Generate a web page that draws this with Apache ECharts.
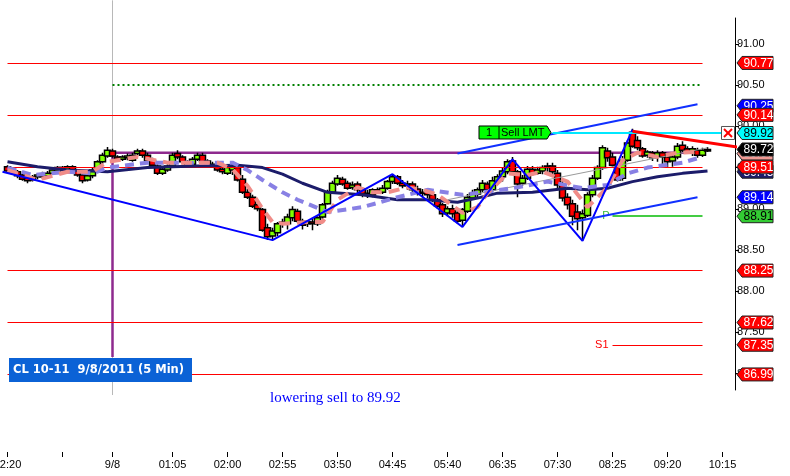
<!DOCTYPE html>
<html>
<head>
<meta charset="utf-8">
<script src="https://cdn.jsdelivr.net/npm/echarts@6/dist/echarts.min.js"></script>
<style>
html,body{margin:0;padding:0;background:#fff;}
#main{width:790px;height:476px;}
</style>
</head>
<body>
<div id="main"></div>
<script>
// 5 min bars, first slot 22:15 (9/7)
var times = [];
(function () {
	var m = 22 * 60 + 15;
	for (var i = 0; i < 147; i++) {
		var t = (m + 5 * i) % 1440;
		times.push(('0' + Math.floor(t / 60)).slice(-2) + ':' + ('0' + t % 60).slice(-2));
	}
})();

var tickIdx = [1, 12, 22, 34, 45, 56, 67, 78, 89, 100, 111, 122, 133, 144];
var tickText = ['22:20', '', '9/8', '01:05', '02:00', '02:55', '03:50', '04:45', '05:40', '06:35', '07:30', '08:25', '09:20', '10:15'];
var priceTicks = [87.0, 87.5, 88.0, 88.5, 89.0, 89.5, 90.0, 90.5, 91.0];

// open, close, low, high  (bar 1 = 22:20)
var candles = [
	[89.51,89.46,89.43,89.53],[89.47,89.43,89.41,89.50],[89.45,89.40,89.37,89.47],[89.41,89.36,89.34,89.43],
	[89.37,89.34,89.31,89.40],[89.35,89.39,89.33,89.41],[89.39,89.41,89.36,89.43],[89.41,89.39,89.36,89.45],
	[89.40,89.43,89.37,89.46],[89.43,89.47,89.41,89.50],[89.46,89.50,89.43,89.52],[89.50,89.47,89.45,89.52],
	[89.48,89.51,89.46,89.53],[89.51,89.46,89.43,89.53],[89.46,89.41,89.39,89.48],[89.41,89.34,89.31,89.43],
	[89.35,89.40,89.33,89.42],[89.40,89.47,89.37,89.50],[89.47,89.57,89.45,89.59],[89.57,89.65,89.54,89.68],
	[89.64,89.71,89.62,89.75],[89.70,89.64,89.62,89.73],[89.63,89.60,89.58,89.65],[89.60,89.63,89.58,89.65],
	[89.62,89.64,89.59,89.67],[89.59,89.65,89.57,89.68],[89.67,89.70,89.64,89.73],[89.70,89.65,89.62,89.73],
	[89.65,89.59,89.57,89.68],[89.59,89.53,89.51,89.62],[89.52,89.43,89.41,89.54],[89.43,89.48,89.41,89.51],
	[89.47,89.52,89.45,89.54],[89.52,89.65,89.50,89.68],[89.67,89.63,89.60,89.71],[89.63,89.57,89.54,89.65],
	[89.57,89.53,89.51,89.59],[89.54,89.60,89.52,89.63],[89.60,89.65,89.58,89.68],[89.65,89.57,89.54,89.68],
	[89.58,89.54,89.52,89.60],[89.54,89.52,89.50,89.57],[89.52,89.47,89.45,89.54],[89.48,89.45,89.42,89.51],
	[89.43,89.50,89.41,89.52],[89.47,89.51,89.41,89.53],[89.50,89.35,89.33,89.52],[89.36,89.20,89.18,89.41],
	[89.20,89.14,89.12,89.24],[89.14,89.03,89.01,89.17],[89.05,89.00,88.97,89.08],[88.99,88.74,88.72,89.01],
	[88.77,88.66,88.62,88.82],[88.67,88.73,88.63,88.77],[88.71,88.82,88.67,88.84],[88.82,88.84,88.77,88.88],
	[88.82,88.90,88.75,88.94],[88.89,88.99,88.85,89.03],[88.97,88.85,88.83,89.00],[88.85,88.80,88.75,88.88],
	[88.82,88.84,88.78,88.86],[88.84,88.82,88.74,88.88],[88.82,88.89,88.79,88.91],[88.90,89.05,88.88,89.07],
	[89.06,89.20,89.05,89.23],[89.20,89.31,89.18,89.34],[89.30,89.37,89.28,89.41],[89.36,89.30,89.28,89.39],
	[89.31,89.25,89.23,89.34],[89.26,89.29,89.23,89.33],[89.30,89.23,89.19,89.33],[89.24,89.18,89.14,89.26],
	[89.19,89.16,89.13,89.23],[89.17,89.23,89.14,89.25],[89.23,89.20,89.18,89.26],[89.20,89.25,89.18,89.29],
	[89.25,89.33,89.23,89.35],[89.33,89.39,89.30,89.42],[89.39,89.31,89.29,89.41],[89.31,89.28,89.25,89.35],
	[89.28,89.30,89.23,89.34],[89.30,89.23,89.19,89.33],[89.24,89.19,89.16,89.28],[89.19,89.20,89.14,89.24],
	[89.20,89.17,89.13,89.25],[89.17,89.11,89.08,89.20],[89.11,89.03,89.00,89.13],[89.05,88.94,88.90,89.07],
	[88.95,89.00,88.91,89.03],[89.00,88.94,88.89,89.05],[88.95,88.85,88.82,88.99],[88.86,88.99,88.79,89.01],
	[88.97,89.14,88.95,89.18],[89.13,89.19,89.11,89.23],[89.18,89.23,89.14,89.26],[89.23,89.31,89.20,89.35],
	[89.30,89.23,89.19,89.33],[89.23,89.34,89.20,89.39],[89.33,89.39,89.30,89.42],[89.39,89.46,89.33,89.50],
	[89.45,89.57,89.42,89.60],[89.58,89.45,89.41,89.63],[89.45,89.30,89.14,89.47],[89.31,89.37,89.28,89.41],
	[89.37,89.48,89.35,89.52],[89.48,89.43,89.40,89.52],[89.43,89.47,89.41,89.51],[89.46,89.50,89.42,89.53],
	[89.50,89.52,89.45,89.56],[89.52,89.45,89.41,89.56],[89.43,89.29,89.25,89.47],[89.30,89.13,89.09,89.34],
	[89.14,89.05,88.99,89.19],[89.06,88.91,88.80,89.11],[88.96,88.88,88.74,89.05],[88.89,88.94,88.61,88.99],
	[88.92,89.17,88.90,89.20],[89.17,89.37,89.14,89.41],[89.37,89.50,89.35,89.53],[89.50,89.74,89.47,89.77],
	[89.70,89.62,89.57,89.74],[89.63,89.53,89.51,89.68],[89.53,89.35,89.33,89.56],[89.37,89.59,89.34,89.64],
	[89.59,89.80,89.57,89.83],[89.93,89.76,89.74,89.97],[89.83,89.74,89.71,89.88],[89.73,89.64,89.62,89.75],
	[89.65,89.69,89.62,89.71],[89.68,89.62,89.58,89.70],[89.63,89.68,89.57,89.71],[89.68,89.63,89.52,89.70],
	[89.63,89.57,89.50,89.67],[89.58,89.63,89.51,89.67],[89.63,89.76,89.60,89.80],[89.77,89.71,89.69,89.82],
	[89.73,89.69,89.67,89.76],[89.69,89.73,89.64,89.76],[89.71,89.65,89.62,89.74],[89.65,89.71,89.63,89.74],
	[89.70,89.72,89.69,89.75]
];

// moving averages read at sample bars [bar, price]
var slowMA = [[1,89.57],[7,89.51],[13,89.47],[21,89.45],[29,89.50],[39,89.52],[47,89.53],[52,89.50],
	[56,89.42],[60,89.31],[65,89.20],[72,89.17],[79,89.11],[85,89.11],[91,89.08],[95,89.13],[99,89.19],
	[106,89.20],[113,89.25],[117,89.23],[121,89.25],[126,89.33],[131,89.39],[136,89.43],[141,89.46]];
var midMA = [[1,89.50],[6,89.41],[13,89.45],[18,89.43],[21,89.50],[29,89.56],[39,89.56],[46,89.56],
	[49,89.47],[52,89.35],[56,89.20],[59,89.11],[63,89.01],[65,88.96],[72,89.02],[79,89.14],[85,89.23],
	[92,89.17],[96,89.20],[103,89.26],[109,89.33],[116,89.25],[121,89.29],[125,89.43],[129,89.50],
	[136,89.56],[140,89.63]];
var fastMA = [[1,89.47],[7,89.35],[13,89.45],[18,89.45],[21,89.57],[27,89.63],[33,89.56],[37,89.56],
	[43,89.56],[46,89.48],[49,89.28],[52,89.00],[54,88.84],[56,88.82],[61,88.84],[64,88.84],[67,89.11],
	[71,89.26],[74,89.20],[77,89.20],[81,89.26],[84,89.23],[87,89.17],[92,88.95],[95,89.02],[97,89.19],
	[101,89.43],[105,89.41],[108,89.45],[113,89.33],[117,89.02],[121,89.26],[124,89.59],[127,89.68],
	[131,89.63],[135,89.68],[139,89.69]];

var zigzag = [[0,89.45],[54,88.62],[78,89.42],[92,88.78],[102,89.60],[116,88.61],[126,89.96]];
var channelTop = [[91,89.67],[139,90.27]];
var channelLow = [[91,88.56],[139,89.14]];
var trendDown = [[126,89.94],[146.5,89.75]];
var regLine = [[89,89.11],[141,89.74]];
var purpleLine = [[140,89.68],[22,89.68],[21.6,89.46],[21.6,87.20]];

var redLevels = [90.77, 90.14, 89.51, 88.25, 87.62, 86.99];
var dotLevel = 90.50;
var pivotP = 88.91;
var pivotS1 = 87.35;
var sellPrice = 89.92;

var tagValues = [90.77, 90.25, 90.14, 89.92, 89.45, 89.67, 89.72, 89.51, 89.14, 88.91, 88.25, 87.62, 87.35, 86.99];
var tagFills = ['#ff0000', '#0000ff', '#ff0000', '#00ffff', '#1c1c6a', '#f29a94', '#000000', '#ff0000', '#0000ff', '#33cc33', '#ff0000', '#ff0000', '#ff0000', '#ff0000'];
var tagInk = ['#fff', '#fff', '#fff', '#000', '#fff', '#fff', '#fff', '#fff', '#fff', '#000', '#fff', '#fff', '#fff', '#fff'];

var chart = echarts.init(document.getElementById('main'));
var FONT = '"Liberation Sans", Arial, sans-serif';

function seg(name, data, color, width, type, z) {
	return {
		name: name, type: 'line', data: data, symbol: 'none', silent: true, z: z || 3,
		lineStyle: { color: color, width: width, type: type || 'solid' }
	};
}

var levelLines = redLevels.map(function (v) {
	return [{ coord: [1, v] }, { coord: [140, v] }];
});
levelLines.push([{ coord: [22, dotLevel], lineStyle: { color: '#008000', width: 2, type: [2, 3] } }, { coord: [140, dotLevel] }]);
levelLines.push([{ coord: [122, pivotP], lineStyle: { color: '#44cc44', width: 2 },
	label: { show: true, position: 'start', formatter: 'P', color: '#33bb33', fontSize: 11, fontFamily: FONT, distance: 3 } },
	{ coord: [140, pivotP] }]);
levelLines.push([{ coord: [122, pivotS1], lineStyle: { color: '#ff0000', width: 1 },
	label: { show: true, position: 'start', formatter: 'S1', color: '#ff0000', fontSize: 11, fontFamily: FONT, distance: 4 } },
	{ coord: [140, pivotS1] }]);

var option = {
	animation: false,
	backgroundColor: '#fff',
	grid: { left: 0, right: 55, top: 18, bottom: 86, containLabel: false, outerBoundsMode: 'none' },
	xAxis: {
		type: 'category', data: times, boundaryGap: true, offset: 62,
		axisLine: { show: false },
		axisTick: {
			show: true, length: 5, alignWithLabel: true, lineStyle: { color: '#000' },
			interval: function (i) { return tickIdx.indexOf(i) >= 0; }
		},
		axisLabel: {
			color: '#000', fontSize: 11, fontFamily: FONT, margin: 7,
			interval: function (i) { return tickIdx.indexOf(i) >= 0; },
			formatter: function (v, i) { var k = tickIdx.indexOf(i); return k >= 0 ? tickText[k] : ''; }
		},
		splitLine: { show: false }
	},
	yAxis: {
		type: 'value', position: 'right', min: 86.801, max: 91.3155, splitNumber: 9, scale: true,
		axisLine: { show: true, lineStyle: { color: '#000', width: 1 } },
		axisTick: { show: true, length: 4, customValues: priceTicks, lineStyle: { color: '#000' } },
		axisLabel: {
			color: '#000', fontSize: 11, fontFamily: FONT, margin: 2, customValues: priceTicks,
			formatter: function (v) { return Math.abs(v * 2 - Math.round(v * 2)) < 1e-6 ? v.toFixed(2) : ''; }
		},
		splitLine: { show: false }
	},
	graphic: [
		{ type: 'rect', left: 9, top: 358, shape: { width: 183, height: 24 }, style: { fill: '#0b62d6' }, z: 100 },
		{ type: 'text', left: 13, top: 364, z: 101,
			style: { text: 'CL 10-11  9/8/2011 (5 Min)', fill: '#fff', font: 'bold 11.5px "DejaVu Sans", Tahoma, sans-serif' } },
		{ type: 'text', left: 270, top: 391, z: 101,
			style: { text: 'lowering sell to 89.92', fill: '#0000ff', font: '15px "Liberation Serif", "Times New Roman", serif' } }
	],
	series: [
		{
			name: 'levels', type: 'line', data: [], silent: true, z: 1,
			markLine: {
				silent: true, symbol: ['none', 'none'], animation: false,
				label: { show: false },
				lineStyle: { color: '#ff0000', width: 1, type: 'solid', opacity: 1 },
				data: levelLines
			}
		},
		{
			name: 'session', type: 'line', data: [[22, 91.53], [22, 86.74]], symbol: 'none', silent: true, clip: false, z: 1,
			lineStyle: { color: '#b8b8b8', width: 1 }
		},
		seg('purple', purpleLine, '#8e2a8e', 2.5, 'solid', 2),
		{
			name: 'CL', type: 'candlestick', z: 3, barWidth: 7, barMaxWidth: 10,
			encode: { x: 0, y: [1, 2, 3, 4] },
			data: candles.map(function (c, k) { return [k + 1, c[0], c[1], c[2], c[3]]; }),
			itemStyle: { color: '#80ff00', color0: '#ff0000', borderColor: '#000', borderColor0: '#000', borderWidth: 1.5 }
		},
		seg('regression', regLine, '#9a9a9a', 1, 'solid', 4),
		seg('slow', slowMA, '#1c1c6a', 3, 'solid', 5),
		seg('mid', midMA, '#8880e4', 4, [9, 6], 5),
		seg('fast', fastMA, '#f08c88', 4, [11, 7], 6),
		seg('zigzag', zigzag, '#0000ff', 2, 'solid', 7),
		seg('chTop', channelTop, '#1030ff', 2, 'solid', 7),
		seg('chLow', channelLow, '#1030ff', 2, 'solid', 7),
		seg('sell', [[109.5, sellPrice], [146.4, sellPrice]], '#00e8ff', 2, 'solid', 7),
		seg('trend', trendDown, '#ff0000', 3, 'solid', 8),
		{
			name: 'sellTag', type: 'custom', z: 9, silent: true,
			data: [[95, sellPrice]],
			renderItem: function (params, api) {
				var p = api.coord([api.value(0), api.value(1)]);
				var x = p[0] + 1.5, y = p[1] - 0.5;
				return { type: 'group', children: [
					{ type: 'polygon', shape: { points: [[x, y - 6.5], [x + 68, y - 6.5], [x + 72, y], [x + 68, y + 6.5], [x, y + 6.5]] },
						style: { fill: '#00ff00', stroke: '#000', lineWidth: 1 } },
					{ type: 'line', shape: { x1: x + 20, y1: y - 6.5, x2: x + 20, y2: y + 6.5 }, style: { stroke: '#000', lineWidth: 1 } },
					{ type: 'text', x: x + 10, y: y, style: { text: '1', fill: '#000', font: '11px ' + FONT, align: 'center', verticalAlign: 'middle' } },
					{ type: 'text', x: x + 22, y: y, style: { text: 'Sell LMT', fill: '#000', font: '11px ' + FONT, align: 'left', verticalAlign: 'middle' } }
				] };
			}
		},
		{
			name: 'cancel', type: 'custom', z: 9, silent: true,
			data: [[145, sellPrice]],
			renderItem: function (params, api) {
				var p = api.coord([api.value(0), api.value(1)]);
				var x = p[0] + 0.5, y = p[1];
				return { type: 'group', children: [
					{ type: 'rect', shape: { x: x - 6.5, y: y - 6.5, width: 13, height: 13 }, style: { fill: '#fff', stroke: '#555', lineWidth: 1 } },
					{ type: 'line', shape: { x1: x - 4, y1: y - 4, x2: x + 4, y2: y + 4 }, style: { stroke: '#ff0000', lineWidth: 2 } },
					{ type: 'line', shape: { x1: x + 4, y1: y - 4, x2: x - 4, y2: y + 4 }, style: { stroke: '#ff0000', lineWidth: 2 } }
				] };
			}
		},
		{
			name: 'tags', type: 'custom', z: 10, silent: true, clip: false,
			data: tagValues.map(function (v) { return [0, v]; }),
			renderItem: function (params, api) {
				var i = params.dataIndex;
				var y = api.coord([0, api.value(1)])[1];
				return { type: 'group', children: [
					{ type: 'polygon', shape: { points: [[737, y], [742, y - 6.5], [773, y - 6.5], [773, y + 6.5], [742, y + 6.5]] },
						style: { fill: tagFills[i], stroke: '#222', lineWidth: 1 } },
					{ type: 'text', x: 743.5, y: y + 0.5, style: { text: tagValues[i].toFixed(2), fill: tagInk[i], font: '12px ' + FONT, align: 'left', verticalAlign: 'middle' } }
				] };
			}
		}
	]
};
chart.setOption(option);
</script>
</body>
</html>
